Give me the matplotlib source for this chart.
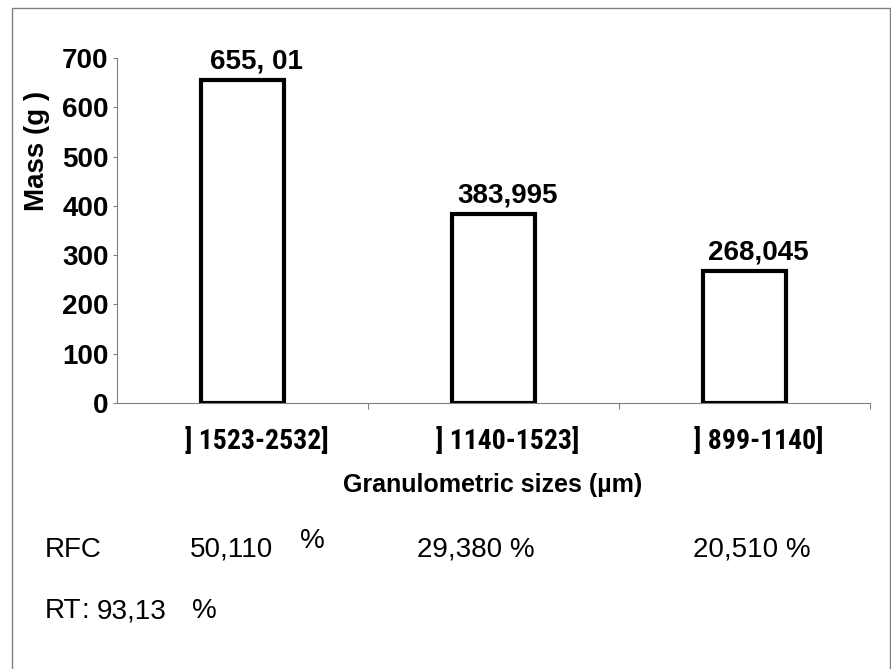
import matplotlib
matplotlib.use("Agg")
import matplotlib.pyplot as plt
from matplotlib import font_manager
from matplotlib.patches import Rectangle
from matplotlib.transforms import ScaledTranslation

categories = ["] 1523-2532]", "] 1140-1523]", "] 899-1140]"]
masses = [655.01, 383.995, 268.045]
mass_labels = ["655, 01", "383,995", "268,045"]
rfc_labels = ["50,110", "29,380 %", "20,510 %"]

plt.rcParams['font.family'] = ['Liberation Sans', 'DejaVu Sans']

# narrow font for the category labels if one is around
names = {f.name for f in font_manager.fontManager.ttflist}
narrow = 'Liberation Sans'
for n in ['Liberation Sans Narrow', 'Roboto Condensed', 'Open Sans Condensed', 'Noto Sans Condensed']:
    if n in names:
        narrow = n
        break

W, H = 891, 669
fig = plt.figure(figsize=(W / 100, H / 100), dpi=100)
ax = fig.add_axes([117 / W, 1 - 403 / H, 753 / W, 345 / H])

x = range(len(categories))
ax.bar(x, masses, width=0.33, color='white', edgecolor='black', linewidth=3)
# labels sit a bit right of the bar centres in the original
for xi, v, lab in zip(x, masses, mass_labels):
    ax.annotate(lab, (xi, v), xytext=(10, 4), textcoords='offset points',
                ha='center', va='bottom', fontsize=20, fontweight='bold')

ax.set_xlim(-0.5, 2.5)
ax.set_ylim(0, 700)
ax.set_yticks(range(0, 701, 100))
ax.tick_params(axis='y', labelsize=20, length=3, color='gray', pad=3)
for t in ax.get_yticklabels():
    t.set_fontweight('bold')
ax.set_xticks([0.5, 1.5, 2.5])
ax.set_xticklabels([])
ax.tick_params(axis='x', length=4, color='gray', direction='out')

for s in ['top', 'right']:
    ax.spines[s].set_visible(False)
ax.spines['left'].set_color('gray')
ax.spines['bottom'].set_color('gray')

# category labels and axis titles
shift = ax.get_xaxis_transform() + ScaledTranslation(0.14, -0.38, fig.dpi_scale_trans)
for xi, c in zip(x, categories):
    ax.text(xi, 0, c, ha='center', va='center', fontsize=20, fontweight='bold',
            family=narrow, transform=shift)
fig.text(493 / W, 1 - 485 / H, "Granulometric sizes (µm)", ha='center', va='center',
         fontsize=18, fontweight='bold')
fig.text(37 / W, 1 - 151 / H, "Mass (g )", rotation=90, ha='center', va='center',
         fontsize=20, fontweight='bold')

# notes under the chart
fig.text(45 / W, 1 - 550 / H, "RFC", fontsize=20, va='center')
fig.text(190 / W, 1 - 550 / H, rfc_labels[0], fontsize=20, va='center')
fig.text(300 / W, 1 - 541 / H, "%", fontsize=20, va='center')
fig.text(417 / W, 1 - 550 / H, rfc_labels[1], fontsize=20, va='center')
fig.text(693 / W, 1 - 550 / H, rfc_labels[2], fontsize=20, va='center')
fig.text(45 / W, 1 - 611 / H, "RT", fontsize=20, va='center')
fig.text(81 / W, 1 - 611 / H, ":", fontsize=20, va='center')
fig.text(97 / W, 1 - 611 / H, "93,13", fontsize=20, va='center')
fig.text(192 / W, 1 - 611 / H, "%", fontsize=20, va='center')

fig.patches.append(Rectangle((12 / W, -0.01), (W - 13) / W, 1 - 8 / H + 0.01,
                             transform=fig.transFigure, fill=False,
                             edgecolor='gray', linewidth=1))

fig.savefig("out.png", dpi=100)
